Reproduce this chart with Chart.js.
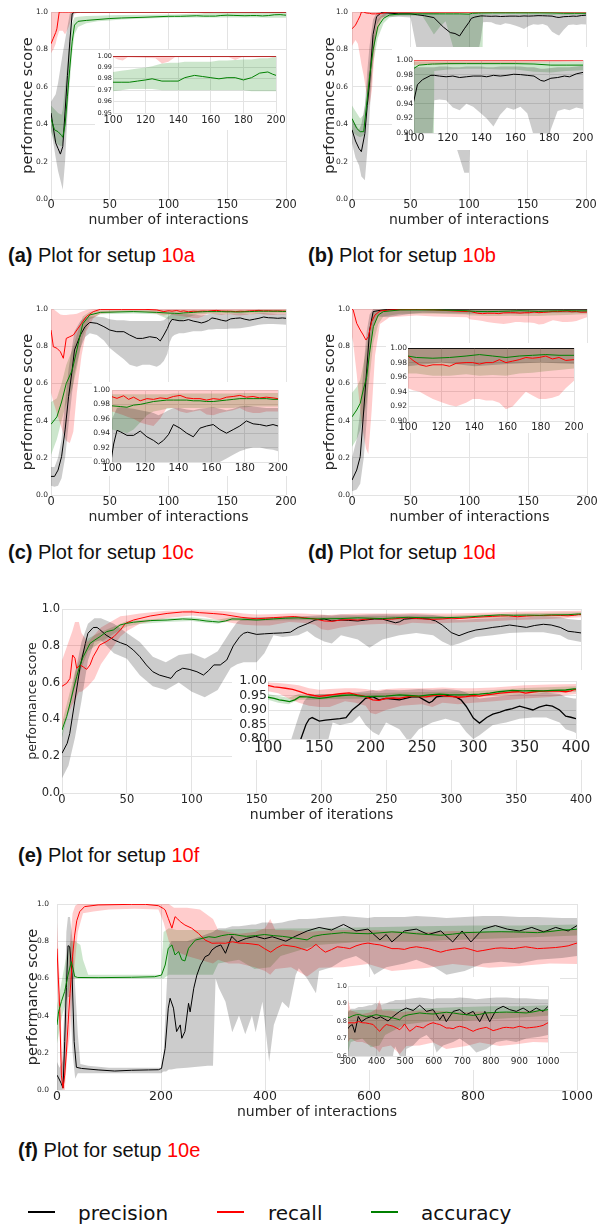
<!DOCTYPE html>
<html>
<head>
<meta charset="utf-8">
<script src="https://cdn.jsdelivr.net/npm/chart.js@4.4.1/dist/chart.umd.min.js"></script>
<style>
  html, body { margin: 0; padding: 0; background: #fff; }
  body { position: relative; width: 600px; height: 1227px; overflow: hidden; font-family: "DejaVu Sans", sans-serif; }
  canvas { position: absolute; }
  .cap { position: absolute; font-family: "Liberation Sans", Arial, sans-serif; font-size: 20px; line-height: 24px; color: #111; white-space: nowrap; }
  .cap span { color: #ff0000; }
  .key { position: absolute; height: 2px; width: 27px; }
  .keytxt { position: absolute; font-size: 20px; line-height: 24px; color: #111; white-space: nowrap; }
</style>
</head>
<body>

<div class="cap" style="left:8px;top:243px"><b>(a)</b> Plot for setup <span>10a</span></div>
<div class="cap" style="left:308px;top:243px"><b>(b)</b> Plot for setup <span>10b</span></div>
<div class="cap" style="left:8px;top:540px"><b>(c)</b> Plot for setup <span>10c</span></div>
<div class="cap" style="left:308px;top:540px"><b>(d)</b> Plot for setup <span>10d</span></div>
<div class="cap" style="left:18px;top:843px"><b>(e)</b> Plot for setup <span>10f</span></div>
<div class="cap" style="left:18px;top:1138px"><b>(f)</b> Plot for setup <span>10e</span></div>

<div class="key" style="left:28px;top:1211px;background:#000"></div>
<div class="keytxt" style="left:78px;top:1201px">precision</div>
<div class="key" style="left:217px;top:1211px;background:#ff0000"></div>
<div class="keytxt" style="left:268px;top:1201px">recall</div>
<div class="key" style="left:371px;top:1211px;background:#008000"></div>
<div class="keytxt" style="left:421px;top:1201px">accuracy</div>

<script>
// ---------- setup 10a ----------
const aPrecX    = [0, 2, 4, 6, 8, 10, 12, 14, 16, 18, 20, 25, 100, 200];
const aPrecMean = [0.46, 0.38, 0.30, 0.27, 0.24, 0.28, 0.47, 0.66, 0.84, 0.99, 1.0, 1.0, 1.0, 1.0];
const aPrecLo   = [0.38, 0.30, 0.22, 0.15, 0.10, 0.05, 0.20, 0.45, 0.70, 0.95, 0.99, 1.0, 1.0, 1.0];
const aPrecHi   = [0.52, 0.54, 0.56, 0.62, 0.70, 0.78, 0.85, 0.92, 0.99, 1.0, 1.0, 1.0, 1.0, 1.0];

const aRecX    = [0, 2, 4, 5, 7, 10, 12, 15, 18, 20, 100, 103, 106, 109, 126, 130, 134, 138, 171, 175, 179, 200];
const aRecMean = [0.83, 0.86, 0.89, 0.91, 1.0, 1.0, 1.0, 1.0, 1.0, 1.0, 1.0, 1.0, 1.0, 1.0, 1.0, 1.0, 1.0, 1.0, 1.0, 1.0, 1.0, 1.0];
const aRecLo   = [0.78, 0.80, 0.83, 0.86, 0.90, 0.90, 0.88, 0.92, 0.98, 1.0, 0.999, 0.997, 0.996, 0.999, 0.998, 0.9935, 0.995, 0.999, 0.999, 0.9965, 0.999, 0.999];
const aRecHi   = [1.0, 1.0, 1.0, 1.0, 1.0, 1.0, 1.0, 1.0, 1.0, 1.0, 1.0, 1.0, 1.0, 1.0, 1.0, 1.0, 1.0, 1.0, 1.0, 1.0, 1.0, 1.0];

const aAccX    = [0, 3, 6, 9, 10, 12, 14, 16, 18, 20, 23, 30, 40, 50, 60, 80, 100, 105, 110, 115, 120, 124, 130, 135, 140, 144, 150, 155, 160, 165, 170, 175, 180, 185, 190, 195, 198, 200];
const aAccMean = [0.43, 0.37, 0.36, 0.34, 0.33, 0.40, 0.55, 0.70, 0.84, 0.93, 0.95, 0.955, 0.96, 0.965, 0.968, 0.972, 0.977, 0.977, 0.977, 0.978, 0.979, 0.980, 0.978, 0.978, 0.978, 0.981, 0.983, 0.982, 0.981, 0.980, 0.981, 0.981, 0.979, 0.981, 0.985, 0.986, 0.984, 0.983];
const aAccLo   = [0.36, 0.31, 0.29, 0.28, 0.30, 0.35, 0.47, 0.62, 0.78, 0.88, 0.92, 0.94, 0.95, 0.955, 0.96, 0.965, 0.969, 0.970, 0.971, 0.971, 0.971, 0.971, 0.970, 0.970, 0.970, 0.970, 0.970, 0.970, 0.970, 0.970, 0.970, 0.970, 0.970, 0.969, 0.969, 0.969, 0.969, 0.969];
const aAccHi   = [0.50, 0.48, 0.46, 0.45, 0.48, 0.60, 0.73, 0.86, 0.94, 0.97, 0.975, 0.978, 0.98, 0.982, 0.984, 0.985, 0.986, 0.987, 0.988, 0.989, 0.990, 0.991, 0.9935, 0.994, 0.994, 0.995, 0.995, 0.995, 0.995, 0.996, 0.996, 0.9965, 0.997, 0.997, 0.998, 0.998, 0.999, 0.999];

// ---------- setup 10b ----------
const bPrecX    = [0, 3, 6, 8, 11, 13, 15, 18, 21, 25, 30, 40, 50, 56, 62, 70, 78, 84, 88, 92, 96, 100, 102, 105, 110, 112, 115, 119, 123, 127, 131, 135, 140, 143, 147, 151, 155, 159, 163, 167, 171, 175, 177, 181, 185, 189, 192, 196, 200];
const bPrecMean = [0.37, 0.31, 0.27, 0.253, 0.35, 0.50, 0.62, 0.88, 0.975, 0.996, 0.995, 0.99, 0.99, 0.985, 0.98, 0.97, 0.92, 0.89, 0.885, 0.872, 0.91, 0.945, 0.966, 0.973, 0.979, 0.979, 0.978, 0.977, 0.978, 0.976, 0.977, 0.978, 0.978, 0.977, 0.979, 0.978, 0.979, 0.9805, 0.980, 0.979, 0.978, 0.972, 0.971, 0.975, 0.976, 0.978, 0.977, 0.981, 0.983];
const bPrecLo   = [0.30, 0.22, 0.18, 0.12, 0.10, 0.25, 0.45, 0.75, 0.93, 0.97, 0.975, 0.975, 0.97, 0.78, 0.60, 0.50, 0.45, 0.35, 0.30, 0.22, 0.14, 0.14, 0.60, 0.70, 0.85, 0.945, 0.946, 0.945, 0.935, 0.931, 0.94, 0.936, 0.926, 0.92, 0.909, 0.925, 0.935, 0.932, 0.936, 0.927, 0.895, 0.88, 0.875, 0.905, 0.93, 0.933, 0.931, 0.935, 0.933];
const bPrecHi   = [0.43, 0.40, 0.37, 0.40, 0.50, 0.68, 0.82, 0.96, 0.995, 1.0, 1.0, 0.998, 0.997, 0.995, 0.995, 0.995, 0.99, 0.99, 0.99, 0.99, 0.99, 0.99, 0.99, 0.99, 0.99, 0.99, 0.991, 0.991, 0.99, 0.99, 0.991, 0.991, 0.991, 0.99, 0.99, 0.991, 0.991, 0.991, 0.991, 0.99, 0.99, 0.988, 0.988, 0.989, 0.99, 0.99, 0.99, 0.991, 0.992];

const bRecX    = [0, 3, 5, 7, 8, 10, 12, 15, 17, 20, 25, 30, 200];
const bRecMean = [0.91, 0.93, 0.955, 0.98, 1.0, 1.0, 0.995, 0.993, 0.99, 0.99, 0.992, 1.0, 1.0];
const bRecLo   = [0.82, 0.85, 0.83, 0.76, 0.72, 0.66, 0.58, 0.50, 0.58, 0.85, 0.96, 0.99, 0.998];
const bRecHi   = [1.0, 1.0, 1.0, 1.0, 1.0, 1.0, 1.0, 1.0, 1.0, 1.0, 1.0, 1.0, 1.0];

const bAccX    = [0, 4, 7, 10, 12, 15, 18, 22, 27, 32, 41, 60, 65, 70, 75, 80, 87, 92, 100, 103, 108, 111, 112, 120, 131, 140, 151, 160, 171, 181, 190, 200];
const bAccMean = [0.43, 0.378, 0.36, 0.36, 0.476, 0.654, 0.797, 0.92, 0.966, 0.984, 0.989, 0.99, 0.99, 0.99, 0.99, 0.99, 0.99, 0.99, 0.9886, 0.993, 0.994, 0.9945, 0.9945, 0.995, 0.995, 0.995, 0.995, 0.995, 0.9945, 0.993, 0.993, 0.993];
const bAccLo   = [0.36, 0.34, 0.33, 0.34, 0.40, 0.55, 0.72, 0.86, 0.94, 0.97, 0.98, 0.98, 0.93, 0.88, 0.92, 0.95, 0.80, 0.60, 0.50, 0.50, 0.50, 0.50, 0.985, 0.987, 0.988, 0.988, 0.987, 0.987, 0.984, 0.983, 0.985, 0.986];
const bAccHi   = [0.50, 0.46, 0.43, 0.45, 0.55, 0.72, 0.86, 0.96, 0.99, 0.996, 0.998, 0.998, 0.998, 0.998, 0.998, 0.998, 0.998, 0.998, 0.998, 0.998, 0.998, 0.998, 0.998, 0.998, 0.998, 0.998, 0.998, 0.998, 0.998, 0.998, 0.998, 0.998];

// ---------- setup 10c ----------
const cPrecX    = [0, 3, 6, 9, 12, 15, 18, 20, 25, 29, 33, 39, 45, 50, 56, 62, 67, 73, 78, 84, 90, 93, 96, 99, 101, 103, 105, 109, 113, 117, 121, 125, 128, 131, 134, 137, 141, 145, 149, 153, 157, 161, 165, 169, 173, 177, 181, 185, 189, 193, 197, 200];
const cPrecMean = [0.10, 0.10, 0.134, 0.206, 0.35, 0.53, 0.672, 0.78, 0.86, 0.905, 0.928, 0.923, 0.905, 0.887, 0.878, 0.878, 0.86, 0.842, 0.842, 0.851, 0.845, 0.828, 0.86, 0.895, 0.925, 0.944, 0.942, 0.937, 0.937, 0.943, 0.935, 0.93, 0.925, 0.93, 0.938, 0.952, 0.947, 0.94, 0.935, 0.947, 0.95, 0.952, 0.945, 0.94, 0.945, 0.95, 0.957, 0.953, 0.952, 0.95, 0.952, 0.95];
const cPrecLo   = [0.05, 0.045, 0.05, 0.09, 0.20, 0.38, 0.55, 0.65, 0.79, 0.85, 0.87, 0.86, 0.83, 0.79, 0.76, 0.73, 0.70, 0.69, 0.70, 0.70, 0.69, 0.70, 0.72, 0.76, 0.82, 0.85, 0.86, 0.87, 0.87, 0.875, 0.88, 0.88, 0.88, 0.885, 0.89, 0.89, 0.892, 0.893, 0.893, 0.895, 0.895, 0.897, 0.90, 0.905, 0.91, 0.915, 0.918, 0.92, 0.92, 0.918, 0.917, 0.915];
const cPrecHi   = [0.15, 0.15, 0.20, 0.30, 0.50, 0.68, 0.80, 0.88, 0.935, 0.955, 0.96, 0.96, 0.955, 0.945, 0.94, 0.94, 0.935, 0.935, 0.935, 0.935, 0.935, 0.935, 0.94, 0.955, 0.965, 0.975, 0.976, 0.975, 0.974, 0.972, 0.97, 0.968, 0.965, 0.968, 0.972, 0.975, 0.975, 0.973, 0.972, 0.974, 0.975, 0.976, 0.974, 0.972, 0.974, 0.977, 0.978, 0.977, 0.976, 0.975, 0.975, 0.975];

const cRecX    = [0, 2, 5, 8, 10.5, 13, 16, 19, 22, 26, 30, 36, 42, 60, 80, 90, 96, 100, 103, 107, 110, 113, 117, 121, 125, 129, 133, 137, 141, 145, 149, 153, 157, 161, 165, 169, 173, 177, 181, 185, 189, 193, 197, 200];
const cRecMean = [0.887, 0.797, 0.789, 0.77, 0.735, 0.842, 0.851, 0.86, 0.887, 0.923, 0.959, 0.986, 0.998, 0.998, 0.998, 0.995, 0.986, 0.9907, 0.9884, 0.992, 0.987, 0.99, 0.985, 0.988, 0.987, 0.989, 0.988, 0.991, 0.9925, 0.989, 0.988, 0.988, 0.986, 0.988, 0.987, 0.99, 0.991, 0.9925, 0.99, 0.991, 0.989, 0.99, 0.989, 0.988];
const cRecLo   = [0.55, 0.50, 0.44, 0.38, 0.33, 0.29, 0.28, 0.34, 0.55, 0.75, 0.88, 0.95, 0.975, 0.985, 0.985, 0.975, 0.965, 0.97, 0.968, 0.965, 0.962, 0.96, 0.955, 0.952, 0.95, 0.96, 0.975, 0.975, 0.97, 0.968, 0.97, 0.972, 0.966, 0.965, 0.968, 0.97, 0.972, 0.975, 0.97, 0.968, 0.968, 0.97, 0.97, 0.97];
const cRecHi   = [1.0, 1.0, 0.985, 0.97, 0.968, 0.968, 0.97, 0.972, 0.975, 0.985, 0.995, 1.0, 1.0, 1.0, 1.0, 1.0, 1.0, 1.0, 1.0, 1.0, 1.0, 1.0, 1.0, 1.0, 1.0, 1.0, 1.0, 1.0, 1.0, 1.0, 1.0, 1.0, 1.0, 1.0, 1.0, 1.0, 1.0, 1.0, 1.0, 1.0, 1.0, 1.0, 1.0, 1.0];

const cAccX    = [0, 5, 9, 13, 18, 22, 27, 33, 42, 70, 90, 100, 105, 109, 113, 117, 121, 125, 129, 133, 137, 141, 145, 149, 153, 157, 161, 165, 169, 173, 177, 181, 185, 189, 193, 197, 200];
const cAccMean = [0.38, 0.42, 0.50, 0.60, 0.67, 0.78, 0.92, 0.968, 0.982, 0.986, 0.982, 0.978, 0.977, 0.976, 0.979, 0.98, 0.982, 0.984, 0.985, 0.986, 0.986, 0.986, 0.986, 0.985, 0.985, 0.984, 0.984, 0.985, 0.986, 0.987, 0.988, 0.988, 0.988, 0.988, 0.988, 0.987, 0.987];
const cAccLo   = [0.215, 0.30, 0.40, 0.49, 0.57, 0.68, 0.85, 0.945, 0.972, 0.976, 0.972, 0.945, 0.942, 0.94, 0.945, 0.955, 0.965, 0.97, 0.972, 0.974, 0.975, 0.975, 0.975, 0.975, 0.975, 0.975, 0.975, 0.975, 0.975, 0.975, 0.976, 0.976, 0.977, 0.977, 0.977, 0.977, 0.977];
const cAccHi   = [0.50, 0.52, 0.60, 0.70, 0.78, 0.86, 0.96, 0.985, 0.992, 0.994, 0.994, 0.994, 0.994, 0.994, 0.994, 0.994, 0.994, 0.994, 0.994, 0.994, 0.995, 0.995, 0.995, 0.995, 0.995, 0.995, 0.995, 0.995, 0.995, 0.995, 0.996, 0.996, 0.996, 0.996, 0.996, 0.996, 0.996];

// ---------- setup 10d ----------
const dPrecX    = [0, 4, 7, 10, 12.5, 15, 18, 22, 30, 40, 50, 60, 100, 120, 140, 160, 180, 200];
const dPrecMean = [0.08, 0.134, 0.206, 0.457, 0.672, 0.887, 0.986, 0.991, 0.997, 0.998, 0.999, 0.999, 0.9995, 0.9995, 0.9995, 0.9995, 0.9995, 0.9995];
const dPrecLo   = [0.02, 0.03, 0.06, 0.20, 0.40, 0.75, 0.90, 0.96, 0.955, 0.965, 0.975, 0.98, 0.975, 0.98, 0.975, 0.978, 0.98, 0.978];
const dPrecHi   = [0.20, 0.30, 0.45, 0.70, 0.88, 0.97, 1.0, 1.0, 1.0, 1.0, 1.0, 1.0, 1.0, 1.0, 1.0, 1.0, 1.0, 1.0];

const dRecX    = [0, 1, 4, 7, 9.6, 11.9, 13.9, 16.7, 19.6, 23.8, 32, 55, 70, 98, 100, 103, 107, 111, 115, 121, 125, 129, 135, 139, 143, 147, 151, 155, 159, 163, 167, 171, 175, 179, 183, 187, 191, 195, 200];
const dRecMean = [1.0, 0.995, 0.923, 0.887, 0.86, 0.833, 0.851, 0.932, 0.968, 0.989, 0.995, 0.998, 0.995, 0.986, 0.989, 0.983, 0.977, 0.975, 0.977, 0.977, 0.975, 0.979, 0.98, 0.98, 0.978, 0.98, 0.98, 0.984, 0.98, 0.982, 0.984, 0.987, 0.986, 0.987, 0.989, 0.985, 0.987, 0.983, 0.984];
const dRecLo   = [0.85, 0.82, 0.65, 0.45, 0.33, 0.25, 0.22, 0.45, 0.75, 0.92, 0.955, 0.965, 0.96, 0.955, 0.945, 0.942, 0.94, 0.935, 0.93, 0.925, 0.922, 0.92, 0.925, 0.93, 0.93, 0.928, 0.928, 0.925, 0.916, 0.92, 0.93, 0.94, 0.935, 0.93, 0.93, 0.932, 0.935, 0.945, 0.955];
const dRecHi   = [1.0, 1.0, 1.0, 1.0, 1.0, 1.0, 1.0, 1.0, 1.0, 1.0, 1.0, 1.0, 1.0, 1.0, 1.0, 1.0, 1.0, 1.0, 1.0, 1.0, 1.0, 1.0, 1.0, 1.0, 1.0, 1.0, 1.0, 1.0, 1.0, 1.0, 1.0, 1.0, 1.0, 1.0, 1.0, 1.0, 1.0, 1.0, 1.0];

const dAccX    = [0, 4, 7, 9.6, 12.5, 15.3, 18.2, 22.4, 26.7, 41, 69, 97, 100, 105, 115, 125, 135, 143, 151, 159, 167, 175, 183, 191, 200];
const dAccMean = [0.42, 0.457, 0.493, 0.565, 0.636, 0.78, 0.905, 0.968, 0.986, 0.995, 0.995, 0.991, 0.989, 0.987, 0.986, 0.987, 0.989, 0.991, 0.989, 0.987, 0.989, 0.99, 0.991, 0.99, 0.99];
const dAccLo   = [0.26, 0.30, 0.35, 0.42, 0.50, 0.65, 0.82, 0.92, 0.96, 0.975, 0.975, 0.97, 0.965, 0.965, 0.962, 0.962, 0.964, 0.962, 0.963, 0.962, 0.965, 0.966, 0.968, 0.97, 0.972];
const dAccHi   = [0.55, 0.58, 0.62, 0.70, 0.80, 0.92, 0.98, 0.995, 1.0, 1.0, 1.0, 1.0, 1.0, 1.0, 1.0, 1.0, 1.0, 1.0, 1.0, 1.0, 1.0, 1.0, 1.0, 1.0, 1.0];

// ---------- setup 10f (iterations) ----------
const ePrecX    = [0, 4, 6, 10, 14, 18, 20, 24, 27, 29, 34, 40, 45, 50, 55, 60, 65, 70, 75, 81, 84, 88, 93, 98, 104, 109, 113, 117, 122, 127, 132, 137, 140, 143, 150, 156, 163, 170, 176, 182, 189, 195, 202, 208, 215, 221, 228, 234, 241, 247, 252, 257, 260, 264, 269, 273, 278, 283, 288, 293, 297, 300, 306, 313, 319, 326, 332, 338, 345, 351, 358, 364, 371, 377, 384, 390, 395, 400];
const ePrecMean = [0.216, 0.27, 0.324, 0.505, 0.687, 0.813, 0.868, 0.899, 0.90, 0.889, 0.858, 0.832, 0.817, 0.804, 0.777, 0.741, 0.696, 0.659, 0.641, 0.629, 0.623, 0.659, 0.678, 0.672, 0.659, 0.641, 0.665, 0.696, 0.696, 0.723, 0.80, 0.85, 0.868, 0.874, 0.862, 0.865, 0.868, 0.87, 0.874, 0.90, 0.92, 0.94, 0.946, 0.935, 0.94, 0.938, 0.935, 0.94, 0.946, 0.945, 0.935, 0.925, 0.93, 0.945, 0.948, 0.95, 0.948, 0.945, 0.935, 0.913, 0.89, 0.872, 0.855, 0.874, 0.886, 0.893, 0.90, 0.905, 0.913, 0.907, 0.90, 0.91, 0.917, 0.913, 0.90, 0.879, 0.875, 0.87];
const ePrecBX   = [0, 5, 10, 15, 20, 25, 30, 40, 50, 60, 70, 80, 90, 100, 110, 120, 130, 135, 140, 150, 156, 163, 170, 182, 189, 195, 202, 208, 215, 228, 237, 247, 260, 273, 286, 293, 300, 306, 319, 332, 345, 358, 371, 384, 390, 398, 400];
const ePrecLo   = [0.08, 0.15, 0.30, 0.50, 0.72, 0.82, 0.83, 0.76, 0.73, 0.64, 0.58, 0.56, 0.60, 0.55, 0.52, 0.56, 0.68, 0.70, 0.71, 0.71, 0.76, 0.857, 0.848, 0.857, 0.88, 0.848, 0.824, 0.813, 0.857, 0.834, 0.79, 0.834, 0.857, 0.87, 0.857, 0.824, 0.80, 0.813, 0.848, 0.857, 0.87, 0.874, 0.874, 0.857, 0.834, 0.824, 0.82];
const ePrecHi   = [0.32, 0.45, 0.65, 0.82, 0.92, 0.95, 0.95, 0.92, 0.87, 0.82, 0.74, 0.71, 0.75, 0.76, 0.73, 0.77, 0.88, 0.93, 0.95, 0.955, 0.955, 0.955, 0.955, 0.96, 0.962, 0.965, 0.968, 0.965, 0.97, 0.968, 0.97, 0.972, 0.97, 0.972, 0.968, 0.96, 0.95, 0.94, 0.945, 0.95, 0.955, 0.955, 0.96, 0.955, 0.945, 0.94, 0.94];

const eRecX    = [0, 3.6, 6.2, 8.2, 10, 11.3, 13.9, 16.4, 19, 21.6, 24, 27, 29, 34, 40, 45, 49, 55, 68, 81, 93, 101, 106, 111, 117, 124, 131, 138, 145, 150, 157, 163, 170, 179, 187, 195, 202, 208, 215, 222, 228, 235, 241, 247, 254, 261, 267, 274, 280, 286, 293, 300, 306, 313, 319, 326, 332, 338, 344, 351, 358, 364, 371, 377, 384, 390, 395, 398, 400];
const eRecMean = [0.58, 0.596, 0.623, 0.75, 0.732, 0.678, 0.696, 0.685, 0.672, 0.696, 0.74, 0.777, 0.804, 0.822, 0.85, 0.886, 0.922, 0.94, 0.962, 0.976, 0.984, 0.984, 0.98, 0.978, 0.975, 0.971, 0.963, 0.955, 0.95, 0.947, 0.95, 0.953, 0.956, 0.959, 0.952, 0.946, 0.935, 0.933, 0.94, 0.942, 0.94, 0.945, 0.948, 0.946, 0.945, 0.95, 0.952, 0.948, 0.946, 0.944, 0.946, 0.95, 0.948, 0.952, 0.955, 0.958, 0.96, 0.962, 0.963, 0.958, 0.962, 0.964, 0.965, 0.966, 0.965, 0.963, 0.966, 0.97, 0.97];
const eRecBX   = [0, 4, 8, 10, 13, 15, 20, 25, 30, 35, 40, 45, 50, 60, 80, 100, 110, 120, 130, 140, 150, 160, 175, 185, 195, 200, 205, 215, 230, 250, 260, 270, 285, 300, 320, 350, 375, 400];
const eRecLo   = [0.35, 0.42, 0.48, 0.50, 0.55, 0.55, 0.58, 0.62, 0.70, 0.75, 0.80, 0.85, 0.88, 0.92, 0.95, 0.965, 0.958, 0.94, 0.925, 0.915, 0.91, 0.91, 0.93, 0.925, 0.915, 0.89, 0.885, 0.90, 0.915, 0.92, 0.91, 0.925, 0.92, 0.925, 0.93, 0.94, 0.945, 0.955];
const eRecHi   = [0.72, 0.80, 0.88, 0.93, 0.93, 0.87, 0.82, 0.86, 0.90, 0.92, 0.94, 0.96, 0.965, 0.975, 0.99, 0.995, 0.993, 0.99, 0.985, 0.975, 0.97, 0.972, 0.975, 0.975, 0.972, 0.97, 0.968, 0.972, 0.975, 0.975, 0.976, 0.978, 0.975, 0.975, 0.978, 0.985, 0.988, 0.99];

const eAccX    = [0, 3.6, 6.2, 8.7, 11.3, 13.9, 16.4, 19, 21.6, 25.4, 29.3, 34.4, 39.6, 44.7, 49.8, 55, 68, 81, 93, 100, 106, 111, 116, 121, 126, 131, 138, 150, 157, 163, 172, 182, 188, 195, 205, 215, 228, 237, 247, 257, 267, 276, 286, 296, 306, 316, 325, 338, 348, 358, 368, 377, 390, 398, 400];
const eAccMean = [0.342, 0.415, 0.487, 0.56, 0.632, 0.696, 0.741, 0.777, 0.813, 0.832, 0.85, 0.877, 0.886, 0.913, 0.922, 0.928, 0.937, 0.94, 0.946, 0.944, 0.94, 0.935, 0.932, 0.929, 0.935, 0.946, 0.945, 0.94, 0.943, 0.946, 0.95, 0.952, 0.949, 0.946, 0.947, 0.948, 0.952, 0.95, 0.948, 0.952, 0.955, 0.953, 0.952, 0.953, 0.955, 0.958, 0.963, 0.968, 0.966, 0.967, 0.966, 0.968, 0.969, 0.973, 0.973];
const eAccBX   = [0, 10, 20, 30, 40, 50, 60, 80, 100, 110, 120, 130, 140, 160, 200, 250, 300, 350, 400];
const eAccLo   = [0.30, 0.58, 0.77, 0.82, 0.865, 0.905, 0.918, 0.93, 0.935, 0.925, 0.92, 0.935, 0.935, 0.938, 0.94, 0.942, 0.945, 0.955, 0.962];
const eAccHi   = [0.38, 0.66, 0.84, 0.875, 0.905, 0.935, 0.94, 0.95, 0.955, 0.948, 0.942, 0.955, 0.953, 0.955, 0.958, 0.962, 0.965, 0.976, 0.982];

// ---------- setup 10e ----------
const fPrecX    = [0, 3, 8, 11.6, 14.8, 18, 21.2, 24.4, 29, 33, 37.3, 47, 79, 111, 143, 176, 195, 201, 208, 214, 217.5, 224, 230, 237, 240, 246, 253, 256, 263, 269, 276, 285, 292, 298, 306, 315, 324, 336, 347, 364, 382, 399, 414, 427, 440, 458, 481, 504, 528, 551, 575, 598, 621, 633, 644, 668, 691, 714, 738, 761, 779, 796, 819, 843, 866, 889, 913, 936, 959, 983, 1000];
const fPrecMean = [0.08, 0.065, 0.036, 0.01, 0.26, 0.55, 0.776, 0.77, 0.618, 0.26, 0.122, 0.116, 0.108, 0.102, 0.106, 0.108, 0.109, 0.116, 0.224, 0.44, 0.493, 0.44, 0.314, 0.35, 0.278, 0.314, 0.466, 0.42, 0.547, 0.618, 0.672, 0.717, 0.726, 0.753, 0.77, 0.78, 0.735, 0.826, 0.796, 0.815, 0.826, 0.813, 0.824, 0.812, 0.80, 0.826, 0.855, 0.874, 0.86, 0.89, 0.855, 0.865, 0.807, 0.836, 0.796, 0.855, 0.865, 0.836, 0.855, 0.796, 0.855, 0.796, 0.865, 0.884, 0.865, 0.855, 0.874, 0.85, 0.874, 0.855, 0.884];
const fPrecBX   = [0, 5, 10, 15, 18, 21, 25, 30, 35, 40, 45, 60, 100, 150, 200, 205, 210, 215, 220, 230, 250, 270, 290, 300, 305, 311, 324, 337, 350, 362, 375, 382, 395, 408, 417, 433, 446, 459, 465, 481, 498, 504, 528, 551, 575, 598, 610, 633, 668, 691, 726, 749, 784, 819, 854, 889, 924, 971, 1000];
const fPrecLo   = [0.0, 0.0, 0.0, 0.05, 0.25, 0.50, 0.50, 0.20, 0.06, 0.09, 0.09, 0.09, 0.09, 0.09, 0.09, 0.10, 0.10, 0.11, 0.11, 0.115, 0.12, 0.125, 0.13, 0.13, 0.60, 0.55, 0.475, 0.31, 0.40, 0.30, 0.40, 0.31, 0.475, 0.15, 0.35, 0.475, 0.44, 0.618, 0.654, 0.60, 0.52, 0.64, 0.66, 0.70, 0.72, 0.68, 0.62, 0.66, 0.68, 0.70, 0.66, 0.62, 0.64, 0.68, 0.69, 0.68, 0.70, 0.71, 0.72];
const fPrecHi   = [0.15, 0.12, 0.15, 0.50, 0.85, 0.93, 0.93, 0.80, 0.55, 0.30, 0.14, 0.13, 0.12, 0.12, 0.12, 0.20, 0.50, 0.78, 0.80, 0.80, 0.80, 0.82, 0.84, 0.85, 0.86, 0.87, 0.87, 0.88, 0.88, 0.885, 0.89, 0.89, 0.90, 0.90, 0.895, 0.90, 0.91, 0.915, 0.92, 0.92, 0.922, 0.925, 0.93, 0.935, 0.93, 0.925, 0.93, 0.93, 0.93, 0.935, 0.93, 0.925, 0.93, 0.935, 0.935, 0.93, 0.93, 0.925, 0.925];

const fRecX    = [0, 5, 8.4, 11.6, 14.8, 18, 21.2, 25, 27.6, 30, 34, 38, 43.7, 53, 79, 143, 170, 195, 205, 208, 214, 221, 227, 232, 237, 246, 259, 272, 285, 298, 311, 324, 337, 350, 362, 375, 388, 399, 411, 423, 434, 446, 458, 470, 481, 490, 498, 507, 516, 528, 539, 551, 563, 575, 587, 598, 610, 621, 633, 644, 656, 668, 679, 691, 703, 714, 726, 738, 749, 761, 773, 784, 796, 808, 819, 831, 843, 854, 866, 878, 889, 901, 913, 924, 936, 948, 959, 971, 983, 994, 1000];
const fRecMean = [0.76, 0.45, 0.08, 0.01, 0.08, 0.20, 0.35, 0.52, 0.618, 0.72, 0.833, 0.91, 0.959, 0.986, 0.995, 0.998, 0.998, 0.991, 0.975, 0.968, 0.923, 0.87, 0.932, 0.92, 0.905, 0.887, 0.87, 0.842, 0.806, 0.789, 0.79, 0.789, 0.797, 0.79, 0.789, 0.785, 0.78, 0.76, 0.741, 0.765, 0.78, 0.775, 0.77, 0.76, 0.75, 0.765, 0.783, 0.76, 0.741, 0.755, 0.77, 0.766, 0.76, 0.775, 0.785, 0.79, 0.784, 0.78, 0.77, 0.76, 0.76, 0.756, 0.765, 0.77, 0.765, 0.76, 0.75, 0.741, 0.75, 0.756, 0.76, 0.764, 0.755, 0.745, 0.75, 0.756, 0.762, 0.764, 0.762, 0.76, 0.765, 0.77, 0.765, 0.76, 0.762, 0.764, 0.766, 0.77, 0.775, 0.785, 0.79];
const fRecBX   = [0, 5, 10, 15, 20, 25, 30, 35, 40, 50, 70, 100, 150, 195, 205, 215, 225, 250, 275, 300, 310, 330, 350, 380, 400, 410, 420, 450, 481, 504, 550, 598, 644, 714, 761, 831, 889, 948, 1000];
const fRecLo   = [0.60, 0.30, 0.0, 0.0, 0.20, 0.30, 0.55, 0.70, 0.85, 0.95, 0.96, 0.97, 0.975, 0.97, 0.90, 0.80, 0.75, 0.72, 0.70, 0.68, 0.70, 0.68, 0.68, 0.66, 0.64, 0.62, 0.65, 0.66, 0.61, 0.657, 0.66, 0.677, 0.64, 0.657, 0.677, 0.657, 0.667, 0.68, 0.677];
const fRecHi   = [0.90, 0.60, 0.15, 0.20, 0.50, 0.80, 0.95, 0.99, 1.0, 1.0, 1.0, 1.0, 1.0, 1.0, 1.0, 1.0, 0.98, 0.98, 0.97, 0.92, 0.86, 0.85, 0.84, 0.85, 0.87, 0.92, 0.86, 0.86, 0.85, 0.855, 0.86, 0.86, 0.855, 0.85, 0.855, 0.85, 0.855, 0.86, 0.86];

const fAccX    = [0, 3, 8.4, 14.8, 21.2, 27.6, 31, 34, 40, 79, 143, 188, 201, 208, 214, 221, 227, 234, 240, 246, 253, 266, 279, 292, 304, 317, 330, 341, 352, 364, 382, 399, 416, 434, 458, 481, 493, 510, 528, 551, 575, 598, 621, 644, 668, 691, 714, 738, 761, 784, 808, 831, 854, 878, 901, 924, 948, 971, 990, 1000];
const fAccMean = [0.35, 0.42, 0.475, 0.53, 0.618, 0.69, 0.65, 0.61, 0.605, 0.604, 0.606, 0.609, 0.618, 0.672, 0.762, 0.78, 0.726, 0.744, 0.70, 0.694, 0.762, 0.806, 0.815, 0.824, 0.82, 0.83, 0.836, 0.836, 0.83, 0.826, 0.83, 0.836, 0.83, 0.826, 0.817, 0.807, 0.826, 0.835, 0.84, 0.846, 0.842, 0.84, 0.845, 0.85, 0.846, 0.84, 0.836, 0.832, 0.838, 0.846, 0.848, 0.85, 0.851, 0.85, 0.848, 0.846, 0.852, 0.86, 0.862, 0.865];
const fAccBX   = [0, 10, 20, 27, 35, 45, 50, 60, 200, 205, 215, 230, 260, 300, 310, 350, 380, 410, 430, 500, 600, 700, 800, 900, 1000];
const fAccLo   = [0.25, 0.40, 0.50, 0.60, 0.60, 0.60, 0.60, 0.60, 0.60, 0.60, 0.62, 0.62, 0.62, 0.62, 0.68, 0.70, 0.65, 0.66, 0.72, 0.78, 0.80, 0.80, 0.81, 0.82, 0.83];
const fAccHi   = [0.45, 0.60, 0.75, 0.80, 0.80, 0.78, 0.70, 0.62, 0.62, 0.85, 0.87, 0.86, 0.86, 0.86, 0.86, 0.865, 0.865, 0.865, 0.868, 0.87, 0.875, 0.88, 0.885, 0.885, 0.89];

// ---------- drawing ----------
const INK = "#262626";
const GRID = "#e3e3e3";
const COLORS = {
  precision: { line: "#000000", band: "rgba(0,0,0,0.2)" },
  recall:    { line: "#ff0000", band: "rgba(255,0,0,0.2)" },
  accuracy:  { line: "#008000", band: "rgba(0,128,0,0.2)" }
};

Chart.defaults.font.family = "'DejaVu Sans', sans-serif";
Chart.defaults.color = INK;

function series(x, mean, bx, lo, hi) { return { x, mean, bx, lo, hi }; }

const setupA = {
  precision: series(aPrecX, aPrecMean, aPrecX, aPrecLo, aPrecHi),
  recall: series(aRecX, aRecMean, aRecX, aRecLo, aRecHi),
  accuracy: series(aAccX, aAccMean, aAccX, aAccLo, aAccHi)
};
const setupB = {
  precision: series(bPrecX, bPrecMean, bPrecX, bPrecLo, bPrecHi),
  recall: series(bRecX, bRecMean, bRecX, bRecLo, bRecHi),
  accuracy: series(bAccX, bAccMean, bAccX, bAccLo, bAccHi)
};
const setupC = {
  precision: series(cPrecX, cPrecMean, cPrecX, cPrecLo, cPrecHi),
  recall: series(cRecX, cRecMean, cRecX, cRecLo, cRecHi),
  accuracy: series(cAccX, cAccMean, cAccX, cAccLo, cAccHi)
};
const setupD = {
  precision: series(dPrecX, dPrecMean, dPrecX, dPrecLo, dPrecHi),
  recall: series(dRecX, dRecMean, dRecX, dRecLo, dRecHi),
  accuracy: series(dAccX, dAccMean, dAccX, dAccLo, dAccHi)
};
const setupE = {
  precision: series(ePrecX, ePrecMean, ePrecBX, ePrecLo, ePrecHi),
  recall: series(eRecX, eRecMean, eRecBX, eRecLo, eRecHi),
  accuracy: series(eAccX, eAccMean, eAccBX, eAccLo, eAccHi)
};
const setupF = {
  precision: series(fPrecX, fPrecMean, fPrecBX, fPrecLo, fPrecHi),
  recall: series(fRecX, fRecMean, fRecBX, fRecLo, fRecHi),
  accuracy: series(fAccX, fAccMean, fAccBX, fAccLo, fAccHi)
};

function pts(xs, ys) { return xs.map((x, i) => ({ x, y: ys[i] })); }

// shaded spread first, mean lines on top (accuracy drawn last)
function buildDatasets(setup, lw) {
  const keys = ["precision", "recall", "accuracy"];
  const sets = [];
  keys.forEach(k => {
    const s = setup[k];
    sets.push({ data: pts(s.bx, s.hi), borderColor: "rgba(0,0,0,0)", borderWidth: 0, backgroundColor: COLORS[k].band, fill: "+1", order: 10 });
    sets.push({ data: pts(s.bx, s.lo), borderColor: "rgba(0,0,0,0)", borderWidth: 0, fill: false, order: 10 });
  });
  keys.forEach((k, i) => {
    const s = setup[k];
    sets.push({ data: pts(s.x, s.mean), borderColor: COLORS[k].line, borderWidth: lw, fill: false, order: 3 - i });
  });
  return sets;
}

function plot(setup, cfg) {
  const { box, area } = cfg;
  const cv = document.createElement("canvas");
  cv.width = box.w;
  cv.height = box.h;
  cv.style.left = box.l + "px";
  cv.style.top = box.t + "px";
  cv.style.width = box.w + "px";
  cv.style.height = box.h + "px";
  if (cfg.inset) cv.style.background = "#fff";
  document.body.appendChild(cv);

  const yAxisW = area.x0 - box.l;
  const xAxisH = box.t + box.h - area.y1;

  const xTitle = cfg.xt
    ? { display: true, text: cfg.xt.text, color: INK, font: { size: cfg.xt.size },
        padding: { top: 0, bottom: (box.t + box.h) - cfg.xt.at - cfg.xt.size * 0.6 } }
    : { display: false };
  const yTitle = cfg.yt
    ? { display: true, text: cfg.yt.text, color: INK, font: { size: cfg.yt.size },
        padding: { top: cfg.yt.at - box.l - cfg.yt.size * 0.6, bottom: 0 } }
    : { display: false };

  new Chart(cv, {
    type: "line",
    data: { datasets: buildDatasets(setup, cfg.lw) },
    options: {
      responsive: false,
      animation: false,
      events: [],
      layout: { padding: { left: 0, top: area.y0 - box.t, right: box.l + box.w - area.x1, bottom: 0 } },
      elements: { point: { radius: 0 }, line: { tension: 0 } },
      plugins: {
        legend: { display: false },
        tooltip: { enabled: false },
        filler: { drawTime: "beforeDatasetsDraw" }
      },
      scales: {
        x: {
          type: "linear", min: cfg.x.min, max: cfg.x.max,
          grid: { color: GRID, drawTicks: false },
          border: { display: false },
          ticks: { stepSize: cfg.x.step, font: { size: cfg.x.font }, color: INK, padding: cfg.x.pad,
                   maxRotation: 0, minRotation: 0, autoSkip: false, callback: v => String(v) },
          title: xTitle,
          afterFit: s => { s.height = xAxisH; s.paddingLeft = 0; s.paddingRight = 0; }
        },
        y: {
          type: "linear", min: cfg.y.min, max: cfg.y.max,
          grid: { color: GRID, drawTicks: false },
          border: { display: false },
          ticks: { stepSize: cfg.y.step, font: { size: cfg.y.font }, color: INK, padding: cfg.y.pad,
                   autoSkip: false, callback: v => v.toFixed(cfg.y.dec) },
          title: yTitle,
          afterFit: s => { s.width = yAxisW; s.paddingTop = 0; s.paddingBottom = 0; }
        }
      }
    }
  });
}

const Y01 = { min: 0, max: 1, step: 0.2, dec: 1, font: 7.5, pad: 3 };
const X200 = { min: 0, max: 200, step: 50, font: 11.4, pad: -1 };
const SCORE = "performance score";
const INTER = "number of interactions";

// main panels
plot(setupA, { box: { l: 0, t: 0, w: 300, h: 235 }, area: { x0: 51, x1: 286, y0: 12, y1: 199 },
  x: X200, y: Y01, lw: 1,
  xt: { text: INTER, size: 14, at: 220 }, yt: { text: SCORE, size: 14.5, at: 28 } });
plot(setupB, { box: { l: 300, t: 0, w: 300, h: 235 }, area: { x0: 352, x1: 586, y0: 12, y1: 199 },
  x: X200, y: Object.assign({}, Y01, { pad: 4 }), lw: 1,
  xt: { text: INTER, size: 14, at: 220 }, yt: { text: SCORE, size: 14.5, at: 330 } });
plot(setupC, { box: { l: 0, t: 290, w: 300, h: 240 }, area: { x0: 51, x1: 286, y0: 309, y1: 495 },
  x: Object.assign({}, X200, { pad: 0 }), y: Y01, lw: 1,
  xt: { text: INTER, size: 14, at: 517 }, yt: { text: SCORE, size: 14.5, at: 28 } });
plot(setupD, { box: { l: 300, t: 290, w: 300, h: 240 }, area: { x0: 352, x1: 587, y0: 309, y1: 495 },
  x: Object.assign({}, X200, { pad: 0 }), y: Object.assign({}, Y01, { pad: 2 }), lw: 1,
  xt: { text: INTER, size: 14, at: 517 }, yt: { text: SCORE, size: 14.5, at: 330 } });
plot(setupE, { box: { l: 0, t: 595, w: 600, h: 230 }, area: { x0: 62, x1: 581, y0: 609, y1: 793 },
  x: { min: 0, max: 400, step: 50, font: 11.5, pad: 0 },
  y: { min: 0, max: 1, step: 0.2, dec: 1, font: 11.5, pad: 2 }, lw: 1,
  xt: { text: "number of iterations", size: 14, at: 815 }, yt: { text: SCORE, size: 12.5, at: 33 } });
plot(setupF, { box: { l: 0, t: 890, w: 600, h: 235 }, area: { x0: 57, x1: 577, y0: 904, y1: 1090 },
  x: { min: 0, max: 1000, step: 200, font: 12.5, pad: -1 },
  y: { min: 0, max: 1, step: 0.2, dec: 1, font: 7.5, pad: 8 }, lw: 1,
  xt: { text: INTER, size: 14, at: 1112 }, yt: { text: SCORE, size: 14.5, at: 33 } });

// zoomed insets
plot(setupA, { inset: true, box: { l: 95, t: 50, w: 191, h: 80 }, area: { x0: 113, x1: 276, y0: 56, y1: 113 },
  x: { min: 100, max: 200, step: 20, font: 10, pad: 1 },
  y: { min: 0.95, max: 1.0, step: 0.01, dec: 2, font: 6.5, pad: 1 }, lw: 1 });
plot(setupB, { inset: true, box: { l: 392, t: 47, w: 205, h: 103 }, area: { x0: 414, x1: 583, y0: 60, y1: 133 },
  x: { min: 100, max: 200, step: 20, font: 11, pad: -1 },
  y: { min: 0.9, max: 1.0, step: 0.02, dec: 2, font: 7.5, pad: 1 }, lw: 1 });
plot(setupC, { inset: true, box: { l: 92, t: 382, w: 200, h: 94 }, area: { x0: 112, x1: 278, y0: 390, y1: 462 },
  x: { min: 100, max: 200, step: 20, font: 10.5, pad: 0 },
  y: { min: 0.9, max: 1.0, step: 0.02, dec: 2, font: 7.5, pad: 2 }, lw: 1 });
plot(setupD, { inset: true, box: { l: 386, t: 343, w: 205, h: 90 }, area: { x0: 408, x1: 574, y0: 348, y1: 421 },
  x: { min: 100, max: 200, step: 20, font: 10, pad: 0 },
  y: { min: 0.9, max: 1.0, step: 0.02, dec: 2, font: 7.5, pad: 1 }, lw: 1 });
plot(setupE, { inset: true, box: { l: 232, t: 670, w: 366, h: 90 }, area: { x0: 268, x1: 576, y0: 681, y1: 739 },
  x: { min: 100, max: 400, step: 50, font: 15, pad: 0 },
  y: { min: 0.8, max: 1.0, step: 0.05, dec: 2, font: 12.5, pad: 1 }, lw: 1.3 });
plot(setupF, { inset: true, box: { l: 333, t: 977, w: 227, h: 93 }, area: { x0: 348, x1: 548, y0: 986, y1: 1056 },
  x: { min: 300, max: 1000, step: 100, font: 9, pad: 0 },
  y: { min: 0.6, max: 1.0, step: 0.1, dec: 1, font: 6.5, pad: 1 }, lw: 1 });
</script>
</body>
</html>
